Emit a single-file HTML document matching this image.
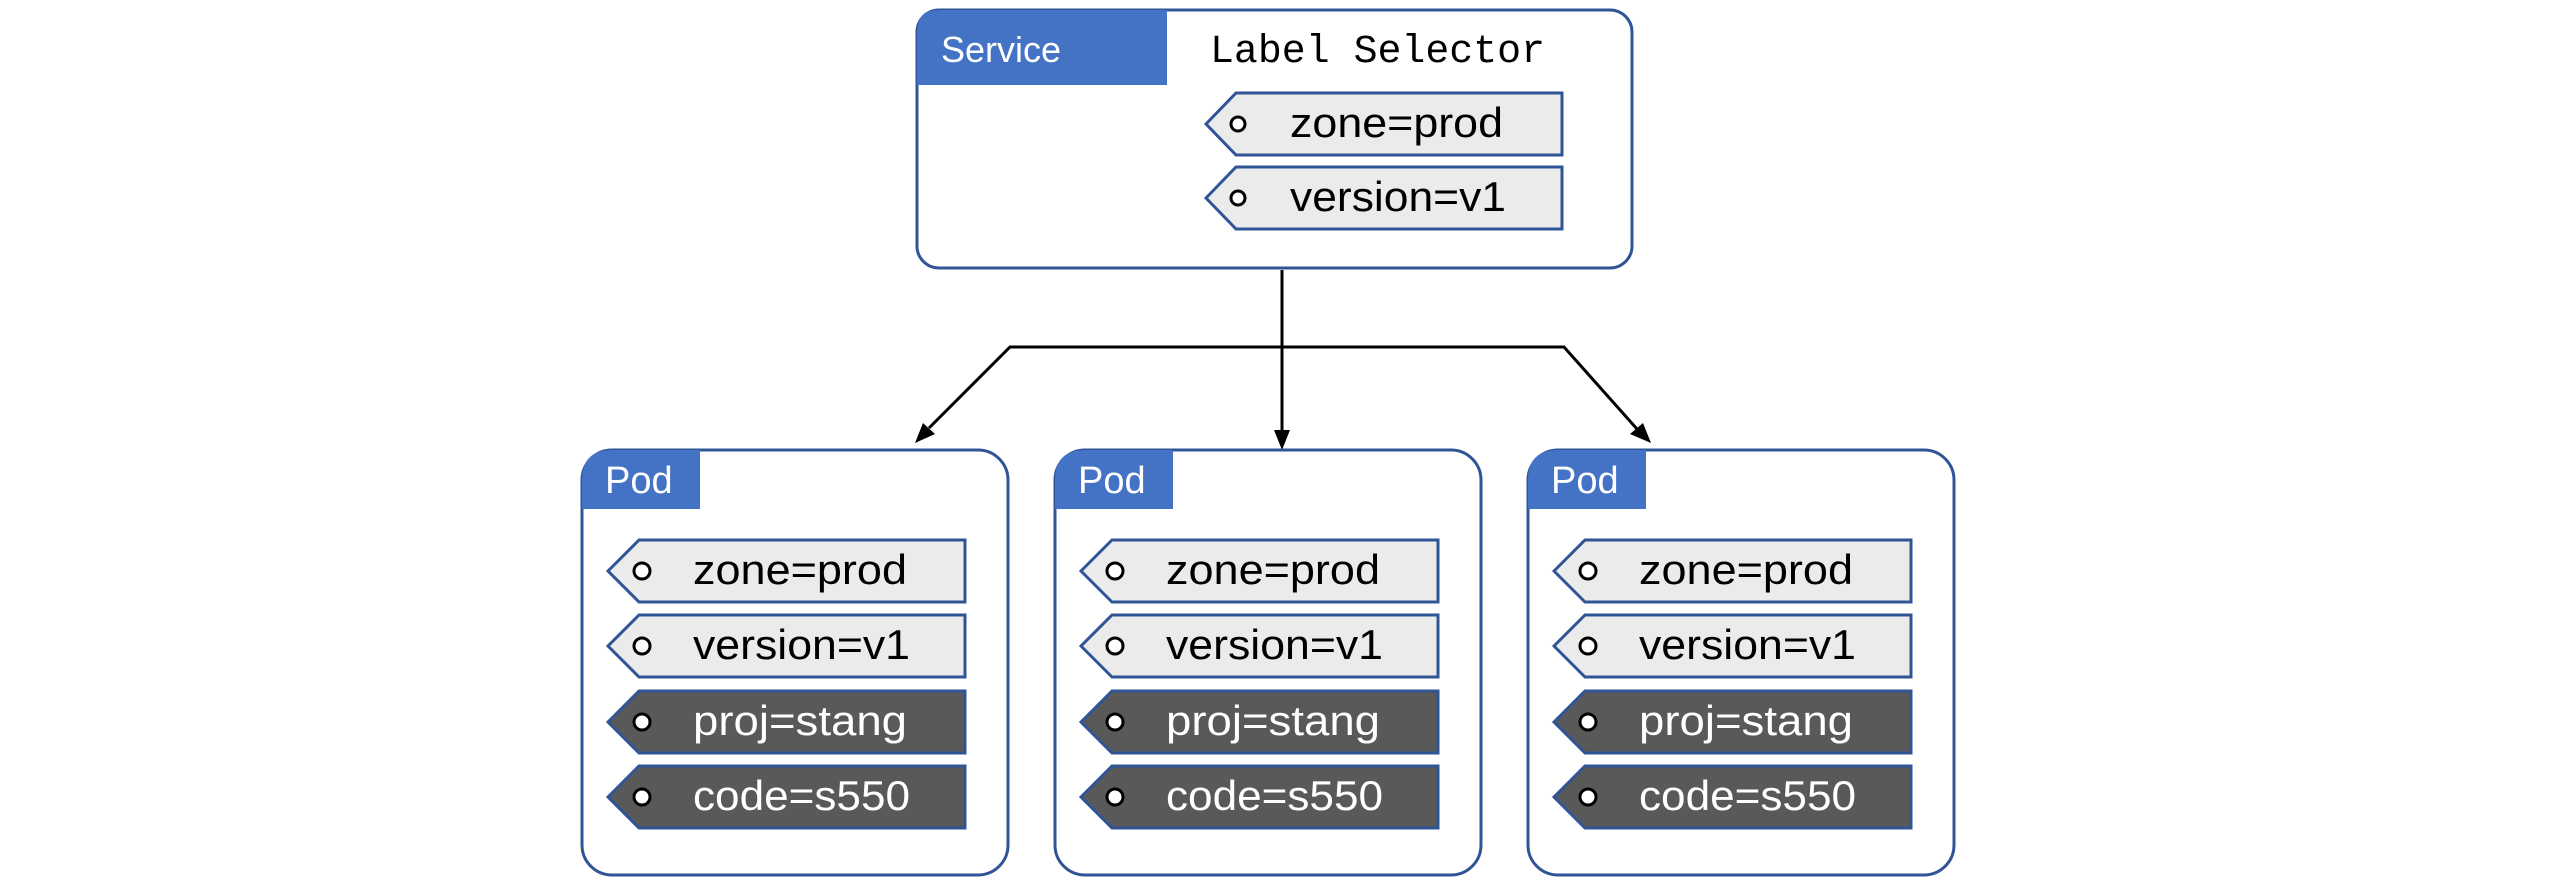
<!DOCTYPE html>
<html><head><meta charset="utf-8"><style>
html,body{margin:0;padding:0;background:#fff;}
svg{display:block;}
.s{font-family:"Liberation Sans",sans-serif;}
</style></head><body>
<svg width="2550" height="884" viewBox="0 0 2550 884" xmlns="http://www.w3.org/2000/svg">
<defs>
<marker id="ah" markerWidth="10" markerHeight="8" refX="9" refY="4" orient="auto" markerUnits="userSpaceOnUse" viewBox="0 0 10 8">
</marker>
<g id="pod">
  <rect x="0" y="0" width="426" height="425" rx="30" fill="#fff" stroke="#2f5597" stroke-width="3"/>
  <path d="M0 59 L0 30 Q0 0 30 0 L118 0 L118 59 Z" fill="#4472c4"/>
  <text class="s" x="23" y="43" font-size="38" fill="#fff">Pod</text>
  <g stroke="#2f5597" stroke-width="3">
    <path d="M26 121 L57 90 L383 90 L383 152 L57 152 Z" fill="#ebebeb"/>
    <path d="M26 196 L57 165 L383 165 L383 227 L57 227 Z" fill="#ebebeb"/>
    <path d="M26 272 L57 241 L383 241 L383 303 L57 303 Z" fill="#595959"/>
    <path d="M26 347 L57 316 L383 316 L383 378 L57 378 Z" fill="#595959"/>
  </g>
  <g fill="#fff" stroke="#000" stroke-width="3">
    <circle cx="60" cy="121" r="8"/><circle cx="60" cy="196" r="8"/>
    <circle cx="60" cy="272" r="8"/><circle cx="60" cy="347" r="8"/>
  </g>
  <text class="s" x="111" y="134" font-size="42" fill="#000" textLength="214" lengthAdjust="spacingAndGlyphs">zone=prod</text>
  <text class="s" x="111" y="209" font-size="42" fill="#000" textLength="217" lengthAdjust="spacingAndGlyphs">version=v1</text>
  <text class="s" x="111" y="285" font-size="42" fill="#fff" textLength="214" lengthAdjust="spacingAndGlyphs">proj=stang</text>
  <text class="s" x="111" y="360" font-size="42" fill="#fff" textLength="217" lengthAdjust="spacingAndGlyphs">code=s550</text>
</g>
</defs>

<!-- Service -->
<rect x="917" y="10" width="715" height="258" rx="22" fill="#fff" stroke="#2f5597" stroke-width="3"/>
<path d="M917 85 L917 32 Q917 10 939 10 L1167 10 L1167 85 Z" fill="#4472c4"/>
<text class="s" x="941" y="62" font-size="36" fill="#fff">Service</text>
<text x="1210" y="62" font-family="Liberation Mono, monospace" font-size="40" fill="#000" textLength="335" lengthAdjust="spacingAndGlyphs">Label Selector</text>
<g stroke="#2f5597" stroke-width="3" fill="#ebebeb">
  <path d="M1206 124 L1236 93 L1562 93 L1562 155 L1236 155 Z"/>
  <path d="M1206 198 L1236 167 L1562 167 L1562 229 L1236 229 Z"/>
</g>
<g fill="#fff" stroke="#000" stroke-width="3">
  <circle cx="1238" cy="124" r="7"/><circle cx="1238" cy="198" r="7"/>
</g>
<text class="s" x="1290" y="137" font-size="42" fill="#000" textLength="213" lengthAdjust="spacingAndGlyphs">zone=prod</text>
<text class="s" x="1290" y="211" font-size="42" fill="#000" textLength="216" lengthAdjust="spacingAndGlyphs">version=v1</text>

<!-- connectors -->
<g stroke="#000" stroke-width="3" fill="none">
  <line x1="1282" y1="270" x2="1282" y2="432"/>
  <polyline points="929,428 1010,347 1564,347 1637,429"/>
</g>
<g fill="#000">
  <polygon points="1282,450 1274,430 1290,430"/>
  <polygon points="915,443 923,423 935,434"/>
  <polygon points="1651,443 1630,434 1643,423"/>
</g>

<use href="#pod" x="582" y="450"/>
<use href="#pod" x="1055" y="450"/>
<use href="#pod" x="1528" y="450"/>
</svg>
</body></html>
